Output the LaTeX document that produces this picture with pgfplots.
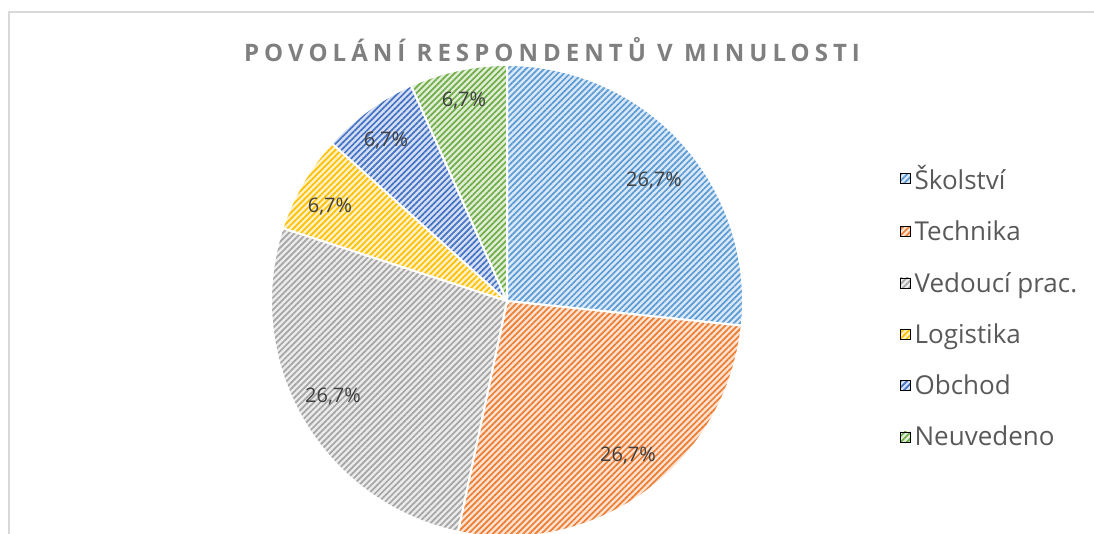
\documentclass[border=0pt]{standalone}
\usepackage{fontspec}
\setmainfont{Open Sans}
\usepackage{pgfplots}
\pgfplotsset{compat=1.18}
\usepackage{pgfplotstable}
\usetikzlibrary{patterns.meta}

\definecolor{cSkol}{HTML}{5B9BD5}
\definecolor{cTech}{HTML}{ED7D31}
\definecolor{cVed}{HTML}{A5A5A5}
\definecolor{cLog}{HTML}{FFC000}
\definecolor{cObch}{HTML}{4472C4}
\definecolor{cNeu}{HTML}{70AD47}
\definecolor{titlegray}{HTML}{7F7F7F}
\definecolor{labgray}{HTML}{404040}
\definecolor{leggray}{HTML}{595959}
\definecolor{framegray}{HTML}{D9D9D9}

% counts of respondents (4/15 = 26,7 %, 1/15 = 6,7 %); lx, ly = label baseline
\pgfplotstableread[col sep=comma]{
label,value,color,lx,ly
Školství,4,cSkol,654,347
Technika,4,cTech,628,72
Vedoucí prac.,4,cVed,333,131
Logistika,1,cLog,330,321
Obchod,1,cObch,386,387
Neuvedeno,1,cNeu,464,427
}\piedata

% pie geometry in pixel units of the picture
\def\cx{507}
\def\cy{233}
\def\R{236}

% slice angles from the table
\xdef\pietotal{0}
\pgfplotstableforeachcolumnelement{value}\of\piedata\as\v{%
  \pgfmathparse{\pietotal+\v}\xdef\pietotal{\pgfmathresult}}
\xdef\piecum{0}
\pgfplotsinvokeforeach{0,...,5}{%
  \pgfplotstablegetelem{#1}{color}\of\piedata
  \colorlet{pie#1}{\pgfplotsretval}%
  \pgfplotstablegetelem{#1}{label}\of\piedata
  \expandafter\xdef\csname pieL#1\endcsname{\pgfplotsretval}%
  \pgfplotstablegetelem{#1}{lx}\of\piedata
  \expandafter\xdef\csname pieX#1\endcsname{\pgfplotsretval}%
  \pgfplotstablegetelem{#1}{ly}\of\piedata
  \expandafter\xdef\csname pieY#1\endcsname{\pgfplotsretval}%
  \pgfplotstablegetelem{#1}{value}\of\piedata
  \let\v\pgfplotsretval
  \pgfmathparse{90-360*\piecum/\pietotal}\expandafter\xdef\csname pieS#1\endcsname{\pgfmathresult}%
  \pgfmathparse{\piecum+\v}\xdef\piecum{\pgfmathresult}%
  \pgfmathparse{90-360*\piecum/\pietotal}\expandafter\xdef\csname pieE#1\endcsname{\pgfmathresult}%
  \pgfmathparse{100*\v/\pietotal}\expandafter\xdef\csname pieP#1\endcsname{\pgfmathresult}%
}

\begin{document}
\begin{tikzpicture}
\begin{axis}[
    x=1pt, y=1pt,
    xmin=0, xmax=1094, ymin=0, ymax=534,
    hide axis,
    at={(0,0)}, anchor=south west,
    clip=true, clip mode=global,
    legend style={at={(axis cs:900,371)}, anchor=north west, draw=none, fill=none,
        font=\fontsize{26}{31}\selectfont, text=leggray, row sep=26pt,
        inner sep=0pt, nodes={inner sep=2pt}},
    legend cell align=left,
]
\draw[framegray, line width=1.5pt] (axis cs:9,-20) -- (axis cs:9,522) -- (axis cs:1110,522);

\pgfplotsinvokeforeach{0,...,5}{
  \path[preaction={fill=pie#1!22!white},
        pattern={Lines[angle=45, distance=4.3pt, line width=1.7pt]}, pattern color=pie#1,
        draw=white, line width=2pt]
    (axis cs:\cx,\cy) -- ++(\csname pieS#1\endcsname:\R pt)
    arc[start angle=\csname pieS#1\endcsname, end angle=\csname pieE#1\endcsname, radius=\R pt]
    -- cycle;
  \addlegendimage{legend image code/.code={
      \path[preaction={fill=pie#1!22!white},
            pattern={Lines[angle=45, distance=4.3pt, line width=1.7pt]}, pattern color=pie#1]
        (0pt,-5pt) rectangle (10pt,5pt);
      \path (12pt,0pt);}}
  \addlegendentry{\csname pieL#1\endcsname}
}
\pgfplotsinvokeforeach{0,...,5}{
  \node[text=labgray, font=\fontsize{20}{24}\selectfont, anchor=base, inner sep=0pt]
    at (axis cs:\csname pieX#1\endcsname,\csname pieY#1\endcsname)
    {\pgfmathprintnumber[fixed, fixed zerofill, precision=1, use comma, assume math mode=true]{\csname pieP#1\endcsname}\%};
}
\node[text=titlegray, font=\fontsize{24}{28}\selectfont\bfseries\addfontfeature{LetterSpace=21}]
  at (axis cs:552,484) {POVOLÁNÍ RESPONDENTŮ V MINULOSTI};
\end{axis}
\pgfresetboundingbox
\path[use as bounding box] (0,0) rectangle (1094pt,534pt);
\end{tikzpicture}
\end{document}
